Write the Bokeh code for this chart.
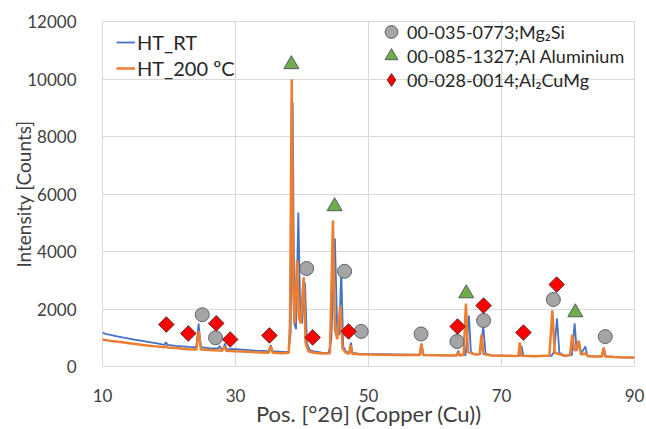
import math
from bokeh.plotting import figure
from bokeh.models import Legend, FixedTicker, Range1d
from bokeh.embed import file_html
from bokeh.resources import INLINE

# ---------------- data ----------------
rt_2theta = [10.0, 10.5, 11, 12, 13, 14, 15, 16, 17, 18, 19, 19.3, 19.55, 19.8, 21, 22, 23,
             24.1, 24.45, 24.8, 26, 27.4, 27.6, 27.8, 28.2, 28.4, 28.6, 30, 32, 33, 35.0, 35.3,
             35.6, 37, 38.0, 38.3, 38.6, 38.85, 39.1, 39.45, 39.75, 40.0, 40.45, 40.75, 41.2,
             42, 43, 44.0, 44.4, 44.95, 45.3, 45.6, 45.9, 46.2, 46.6, 47.1, 47.35, 47.6, 48.5,
             50, 52, 54, 56, 57.7, 58.0, 58.3, 60, 62, 63.3, 63.5, 63.7, 64.6, 65.1, 65.4, 66.0,
             66.8, 67.25, 67.6, 68.5, 70, 72, 72.8, 73.0, 73.3, 75, 77.5, 77.9, 78.35, 78.7,
             79.5, 80.6, 81.0, 81.3, 81.7, 82.0, 82.6, 82.9, 84, 85.1, 85.4, 85.7, 87, 88, 90]
rt_counts = [1180, 1130, 1110, 1060, 1010, 970, 930, 890, 850, 810, 770, 760, 840, 750, 720, 700, 680,
             670, 1490, 670, 640, 630, 720, 625, 620, 800, 615, 600, 570, 550, 535, 740,
             530, 510, 520, 1200, 9190, 1500, 1300, 5360, 1700, 1500, 2920, 800, 560,
             520, 480, 470, 900, 4450, 1200, 1100, 3340, 700, 520, 470, 830, 470, 450,
             440, 430, 420, 410, 410, 730, 410, 400, 390, 390, 560, 390, 400, 1770, 500, 420,
             430, 1400, 450, 390, 380, 370, 370, 720, 370, 360, 370, 500, 1670, 480,
             370, 400, 1500, 550, 800, 450, 700, 380, 350, 350, 640, 350, 330, 320, 310]

t200_2theta = [10.0, 11, 12, 13, 14, 15, 16, 17, 18, 19, 19.3, 19.55, 19.8, 21, 22, 23, 24.1, 24.45,
               24.8, 26, 27.6, 28.0, 28.3, 28.6, 30, 32, 33, 35.0, 35.3, 35.6, 37, 38.0, 38.2,
               38.45, 38.7, 38.9, 39.25, 39.55, 39.8, 40.25, 40.55, 41.0, 42, 43, 44.2, 44.65,
               44.95, 45.3, 45.75, 46.1, 46.6, 47.1, 47.3, 47.55, 48.5, 50, 52, 54, 56, 57.7,
               57.95, 58.2, 60, 62, 63.3, 63.5, 63.7, 64.3, 64.65, 64.95, 66.0, 66.7, 67.0, 67.3,
               68.5, 70, 72, 72.55, 72.75, 73.0, 75, 77.2, 77.65, 78.0, 79.5, 80.3, 80.65, 80.95,
               81.2, 81.6, 81.95, 82.6, 83.0, 84, 85.1, 85.35, 85.6, 87, 88, 90]
t200_counts = [940, 900, 870, 840, 810, 780, 750, 720, 700, 680, 670, 720, 660, 640, 620, 600, 590, 1230,
               590, 570, 560, 550, 700, 550, 530, 510, 495, 480, 700, 475, 460, 480, 1500,
               9990, 2500, 1500, 3690, 1700, 1500, 3100, 800, 520, 470, 450, 460, 5080,
               1300, 950, 2120, 620, 480, 440, 750, 440, 430, 420, 410, 400, 400, 400,
               800, 400, 390, 385, 385, 520, 385, 420, 2190, 500, 420, 430, 1110, 430,
               380, 375, 365, 370, 840, 370, 360, 380, 1950, 480, 370, 400, 1110, 600,
               550, 900, 420, 450, 360, 350, 350, 660, 350, 330, 320, 310]

mg2si_2theta = [25.0, 27.0, 40.7, 46.4, 48.9, 57.9, 63.3, 67.3, 77.8, 85.6]
mg2si_counts = [1800, 1000, 3410, 3310, 1220, 1130, 870, 1600, 2330, 1040]

al_2theta = [38.4, 44.9, 64.7, 81.1]
al_counts = [10510, 5570, 2540, 1880]

al2cumg_2theta = [19.6, 22.9, 27.1, 29.2, 35.1, 41.6, 47.0, 63.4, 67.3, 73.3, 78.3]
al2cumg_counts = [1460, 1150, 1500, 940, 1080, 1010, 1220, 1390, 2120, 1180, 2850]

x_ticks = [10, 30, 50, 70, 90]
y_ticks = [0, 2000, 4000, 6000, 8000, 10000, 12000]

series_names = ["HT_RT", "HT_200 ºC"]
phase_names = ["00-035-0773;Mg\u2082Si", "00-085-1327;Al Aluminium", "00-028-0014;Al\u2082CuMg"]

# ---------------- figure ----------------
FONT = "Lato"
p = figure(width=646, height=429, output_backend="svg", toolbar_location=None,
           x_range=Range1d(10, 90), y_range=Range1d(0, 12000),
           min_border_left=102, min_border_right=12, min_border_top=21, min_border_bottom=63)
p.outline_line_color = "#d9d9d9"
p.outline_line_width = 1
p.background_fill_color = "white"
p.border_fill_color = "white"

p.xaxis.ticker = FixedTicker(ticks=x_ticks)
p.yaxis.ticker = FixedTicker(ticks=y_ticks)
p.xgrid.ticker = FixedTicker(ticks=x_ticks)
p.ygrid.ticker = FixedTicker(ticks=y_ticks)
p.grid.grid_line_color = "#d9d9d9"
p.grid.grid_line_width = 1

for ax in (p.xaxis, p.yaxis):
    ax.axis_line_color = None
    ax.major_tick_line_color = None
    ax.minor_tick_line_color = None
    ax.major_label_text_font = FONT
    ax.major_label_text_font_size = "17px"
    ax.major_label_text_color = "#404040"
    ax.axis_label_text_font = FONT
    ax.axis_label_text_font_style = "normal"
    ax.axis_label_text_color = "#404040"

p.xaxis.major_label_standoff = 16
p.yaxis.major_label_standoff = 20
p.xaxis.axis_label_text_font_size = "22px"
p.yaxis.axis_label_text_font_size = "19px"
p.xaxis.axis_label = "Pos. [°2θ] (Copper (Cu))"
p.yaxis.axis_label = "Intensity [Counts]"
p.xaxis.axis_label_standoff = -5
p.yaxis.axis_label_standoff = -11

r_rt = p.line(rt_2theta, rt_counts, line_color="#4472C4", line_width=1.8)
r_200 = p.line(t200_2theta, t200_counts, line_color="#ED7D31", line_width=2.5)

MG_STYLE = dict(fill_color="#A5A5A5", line_color="#5b6470", line_width=1)
AL_STYLE = dict(fill_color="#70AD47", line_color="#4e5d6c", line_width=1)
CU_STYLE = dict(fill_color="#FF0000", line_color="#6b3030", line_width=1)

r_mg = p.scatter(mg2si_2theta, mg2si_counts, marker="circle", size=14, **MG_STYLE)
r_al = p.scatter(al_2theta, al_counts, marker="triangle", size=15, **AL_STYLE)
# narrow diamond (used for the legend icon) hidden beneath the square-rotated diamond
r_cu_leg = p.scatter(al2cumg_2theta, al2cumg_counts, marker="diamond", size=15, **CU_STYLE)
p.scatter(al2cumg_2theta, al2cumg_counts, marker="square", size=11, angle=math.pi / 4, **CU_STYLE)

leg_common = dict(orientation="vertical", label_text_font=FONT, label_text_color="#262626",
                  padding=0, margin=0, border_line_alpha=0, background_fill_alpha=0)

leg1 = Legend(items=[(series_names[0], [r_rt]), (series_names[1], [r_200])],
              location=(14, 286), label_text_font_size="20px",
              glyph_width=19, glyph_height=20, label_standoff=2, spacing=2, **leg_common)
p.add_layout(leg1)

for name, rend, vy in zip(phase_names, [r_mg, r_al, r_cu_leg], [317, 293, 269]):
    lg = Legend(items=[(name, [rend])], location=(273, vy), label_text_font_size="18px",
                glyph_width=32, glyph_height=35, label_standoff=0, spacing=0, **leg_common)
    p.add_layout(lg)

open("out.html", "w").write(file_html(p, INLINE))
